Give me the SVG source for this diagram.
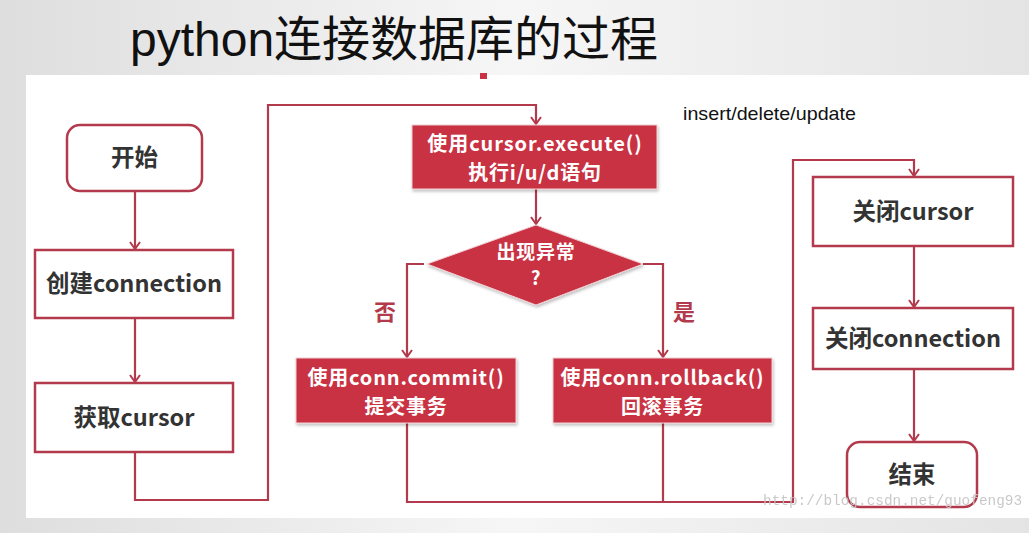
<svg xmlns="http://www.w3.org/2000/svg" width="1029" height="533" viewBox="0 0 1029 533">
<defs>
<linearGradient id="bg" x1="0" y1="0" x2="1" y2="0">
<stop offset="0" stop-color="#dedede"/>
<stop offset="0.5" stop-color="#f6f6f6"/>
<stop offset="1" stop-color="#e4e4e4"/>
</linearGradient>
<marker id="arr" viewBox="0 0 12 12" refX="10" refY="6" markerWidth="12" markerHeight="12" markerUnits="userSpaceOnUse" orient="auto">
<path d="M3,1 L10,6 L3,11" fill="none" stroke="#b33a4c" stroke-width="2"/>
</marker>
<filter id="sh" x="-10%" y="-10%" width="120%" height="130%">
<feDropShadow dx="1" dy="2" stdDeviation="1.5" flood-color="#000" flood-opacity="0.25"/>
</filter>
</defs>
<style>
.wbox{fill:#ffffff;stroke:#b33a4c;stroke-width:2.5}
.rbox{fill:#c93243;stroke:#f0d0d4;stroke-width:1}
.line{fill:none;stroke:#b33a4c;stroke-width:2.2}
.t{font-family:"Noto Sans CJK SC","Noto Sans",sans-serif;font-weight:bold;text-anchor:middle}
.dk{fill:#333333;font-size:23.5px}
.wt{fill:#ffffff;font-size:20px;letter-spacing:0.8px}
.lb{fill:#b33a4c;font-size:22px}
</style>
<rect x="0" y="0" width="1029" height="533" fill="url(#bg)"/>
<rect x="26" y="75" width="1003" height="443" fill="#ffffff"/>
<rect x="480" y="73" width="7" height="6" fill="#c93243"/>
<text x="130" y="56" font-family="'Liberation Sans','Noto Sans CJK SC',sans-serif" font-size="48" fill="#111111">python连接数据库的过程</text>
<text x="683" y="120" font-family="'Liberation Sans',Arial,sans-serif" font-size="19" fill="#111111" textLength="173" lengthAdjust="spacingAndGlyphs">insert/delete/update</text>

<g id="connectors">
<path class="line" d="M135,192 V249" marker-end="url(#arr)"/>
<path class="line" d="M135,318 V382" marker-end="url(#arr)"/>
<path class="line" d="M135,452 V500 H268 V105 H536 V124" marker-end="url(#arr)"/>
<path class="line" d="M536,189 V224" marker-end="url(#arr)"/>
<path class="line" d="M424,264 H407 V357" marker-end="url(#arr)"/>
<path class="line" d="M643,264 H663 V357" marker-end="url(#arr)"/>
<path class="line" d="M407,423 V502 H793 V160 H914 V176" marker-end="url(#arr)"/>
<path class="line" d="M663,423 V502"/>
<path class="line" d="M914,246 V307" marker-end="url(#arr)"/>
<path class="line" d="M914,369 V441" marker-end="url(#arr)"/>
<text class="t lb" x="385" y="320">否</text>
<text class="t lb" x="684" y="320">是</text>
</g>

<g id="start">
<rect class="wbox" x="67" y="125" width="135" height="66" rx="13"/>
<text class="t dk" x="134.5" y="166">开始</text>
</g>
<g id="create-connection">
<rect class="wbox" x="35" y="250" width="198" height="68"/>
<text class="t dk" x="134" y="292">创建connection</text>
</g>
<g id="get-cursor">
<rect class="wbox" x="35" y="383" width="198" height="69"/>
<text class="t dk" x="134" y="426">获取cursor</text>
</g>
<g id="execute">
<rect class="rbox" x="412" y="125" width="245" height="64" filter="url(#sh)"/>
<text class="t wt" x="535" y="151" style="letter-spacing:0.9px">使用cursor.execute()</text>
<text class="t wt" x="535" y="180">执行i/u/d语句</text>
</g>
<g id="exception">
<polygon class="rbox" points="536,225 643,264 536,305 427,264" filter="url(#sh)"/>
<text class="t wt" x="536" y="259" style="font-size:19px">出现异常</text>
<text class="t wt" x="536" y="285" style="font-size:19px">?</text>
</g>
<g id="commit">
<rect class="rbox" x="296" y="358" width="220" height="65" filter="url(#sh)"/>
<text class="t wt" x="406" y="385">使用conn.commit()</text>
<text class="t wt" x="406" y="414">提交事务</text>
</g>
<g id="rollback">
<rect class="rbox" x="553" y="358" width="219" height="65" filter="url(#sh)"/>
<text class="t wt" x="662.5" y="385">使用conn.rollback()</text>
<text class="t wt" x="662.5" y="414">回滚事务</text>
</g>
<g id="close-cursor">
<rect class="wbox" x="813" y="177" width="200" height="69"/>
<text class="t dk" x="913" y="220">关闭cursor</text>
</g>
<g id="close-connection">
<rect class="wbox" x="813" y="308" width="200" height="61"/>
<text class="t dk" x="913" y="347">关闭connection</text>
</g>
<g id="end">
<rect class="wbox" x="847" y="442" width="130" height="65" rx="13"/>
<text class="t dk" x="912" y="483">结束</text>
</g>
<text x="763" y="505" font-family="'Liberation Mono',monospace" font-size="14.4" fill="#c4c4c4" opacity="0.9">http://blog.csdn.net/guofeng93</text>
</svg>
